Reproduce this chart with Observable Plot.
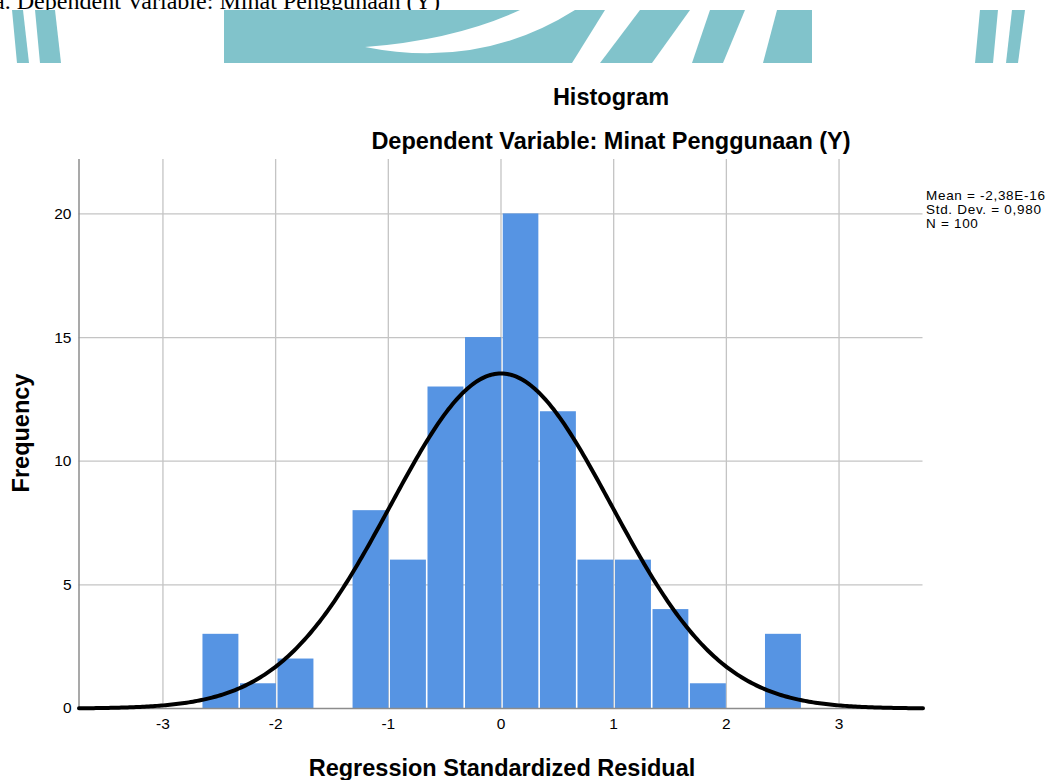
<!DOCTYPE html>
<html>
<head>
<meta charset="utf-8">
<script src="https://cdn.jsdelivr.net/npm/d3@7"></script>
<script src="https://cdn.jsdelivr.net/npm/@observablehq/plot@0.6"></script>
<style>
  html, body { margin: 0; padding: 0; background: #fff; }
  #root { position: relative; width: 1062px; height: 780px; overflow: hidden; background: #fff; font-family: "Liberation Sans", Arial, sans-serif; color: #000; }
  .abs { position: absolute; white-space: nowrap; }
  .title { font-weight: bold; font-size: 23.5px; transform: translate(-50%, -50%); }
  #legend { font-size: 13.5px; line-height: 14px; letter-spacing: 0.7px; }
  #chart { position: absolute; left: 0; top: 150px; }
</style>
</head>
<body>
<div id="root">
  <svg class="abs" style="left:0;top:0" width="1062" height="70">
    <defs><clipPath id="topclip"><rect x="0" y="0" width="1062" height="10"></rect></clipPath></defs>
    <text x="-6" y="8.5" font-family="Liberation Serif, Times New Roman, serif" font-size="23" textLength="446" lengthAdjust="spacingAndGlyphs" clip-path="url(#topclip)">a. Dependent Variable: Minat Penggunaan (Y)</text>
    <g fill="#81c3cb">
      <polygon points="12,10 23,10 29,63 17,63"></polygon>
      <polygon points="35,10 55,10 61,63 40,63"></polygon>
      <polygon points="224,10 605,10 572,63 224,63"></polygon>
      <polygon points="640,10 690,10 652,63 600,63"></polygon>
      <polygon points="710,10 745,10 723,63 692,63"></polygon>
      <polygon points="777,10 812,10 812,63 763,63"></polygon>
      <polygon points="980,10 998,10 993,63 975,63"></polygon>
      <polygon points="1012,10 1025,10 1018,63 1006,63"></polygon>
    </g>
    <path d="M365,47 Q455,40 520,10 L575,10 Q480,70 365,47 Z" fill="#fff"></path>
  </svg>
  <div class="abs title" style="left:611px;top:97px">Histogram</div>
  <div class="abs title" style="left:611px;top:141px">Dependent Variable: Minat Penggunaan (Y)</div>
  <div class="abs title" style="left:21px;top:433px;transform:translate(-50%,-50%) rotate(-90deg)">Frequency</div>
  <div class="abs title" style="left:502px;top:768px">Regression Standardized Residual</div>
  <div id="legend" class="abs" style="left:926px;top:189px">Mean = -2,38E-16<br>Std. Dev. = 0,980<br>N = 100</div>
  <div id="chart"></div>
</div>
<script>
// Histogram bin edges (Regression Standardized Residual) and frequencies
const binEdges = [-2.652, -2.319, -1.986, -1.653, -1.320, -0.988, -0.655, -0.322, 0.013, 0.343, 0.676, 1.009, 1.342, 1.674, 2.007, 2.340, 2.673];
const frequencies = [3, 1, 2, 0, 8, 6, 13, 15, 20, 12, 6, 6, 4, 1, 0, 3];
// Summary statistics shown in the legend (define the fitted normal curve)
const meanValue = -2.38e-16;
const stdDev = 0.980;
const nCases = 100;
// Axis ticks
const xTicks = [-3, -2, -1, 0, 1, 2, 3];
const yTicks = [0, 5, 10, 15, 20];
const xDomain = [-3.745, 3.745];
const yDomain = [0, 22.2];

const bins = frequencies.map((f, i) => ({x1: binEdges[i], x2: binEdges[i + 1], y: f}));
const binWidth = (binEdges[binEdges.length - 1] - binEdges[0]) / frequencies.length;
const curveX = d3.range(0, 401).map(i => xDomain[0] + (xDomain[1] - xDomain[0]) * i / 400);
const curve = curveX.map(x => ({
  x,
  y: nCases * binWidth * Math.exp(-0.5 * ((x - meanValue) / stdDev) ** 2) / (stdDev * Math.sqrt(2 * Math.PI))
}));

const chart = Plot.plot({
  width: 1062,
  height: 600,
  marginTop: 9,
  marginBottom: 42,
  marginLeft: 78.5,
  marginRight: 139.5,
  x: {domain: xDomain, label: null},
  y: {domain: yDomain, label: null},
  style: {fontFamily: "'Liberation Sans', Arial, sans-serif", fontSize: "15.5px", color: "#000", background: "transparent"},
  marks: [
    Plot.gridX(xTicks, {stroke: "#c4c4c4", strokeOpacity: 1, strokeWidth: 1.3}),
    Plot.gridY(yTicks.filter(d => d > 0), {stroke: "#c4c4c4", strokeOpacity: 1, strokeWidth: 1.3}),
    Plot.rectY(bins, {x1: "x1", x2: "x2", y: "y", fill: "#5694e3", insetLeft: 0.8, insetRight: 0.8}),
    Plot.ruleY([0], {stroke: "#8c8c8c", strokeWidth: 1.5}),
    Plot.ruleX([xDomain[0]], {stroke: "#8c8c8c", strokeWidth: 1.5}),
    Plot.line(curve, {x: "x", y: "y", stroke: "#000", strokeWidth: 4, curve: "linear"}),
    Plot.axisX(xTicks, {tickSize: 0, tickPadding: 9, fill: "#000", fontSize: 15.5, tickFormat: d => String(d)}),
    Plot.axisY(yTicks, {tickSize: 0, tickPadding: 7.5, fill: "#000", fontSize: 15.5, tickFormat: d => String(d)})
  ]
});
document.getElementById("chart").appendChild(chart);
</script>
</body>
</html>
